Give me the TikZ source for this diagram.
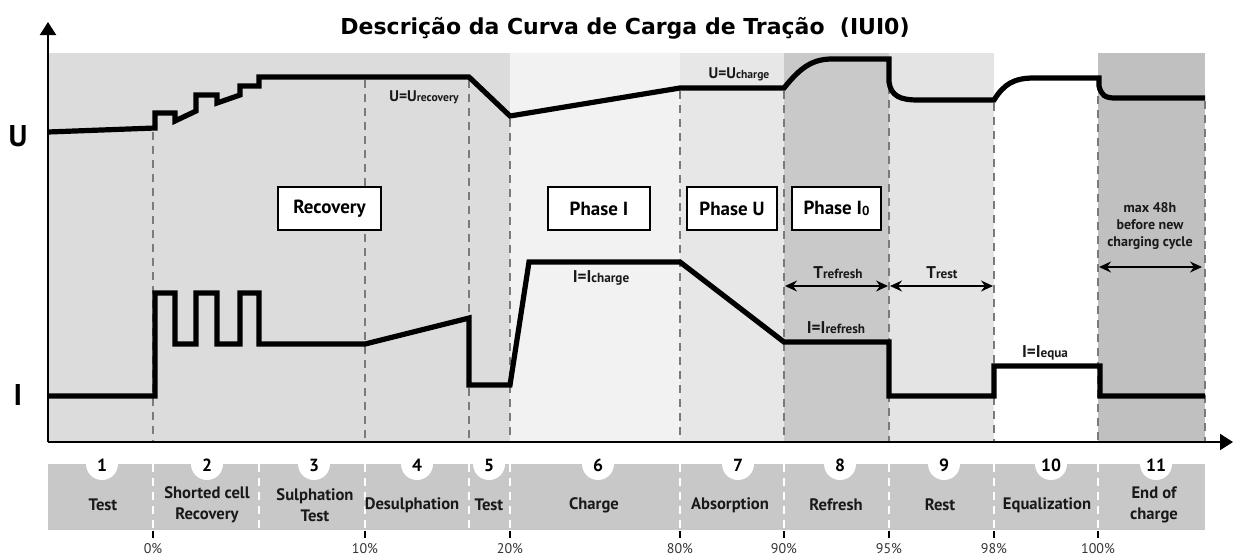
\documentclass[tikz,border=0pt]{standalone}
\usepackage{fontspec}
\setmainfont{PT Sans}
\newfontfamily\titlefont{DejaVu Sans}
\usetikzlibrary{arrows.meta}
\definecolor{gA}{HTML}{DCDCDC}
\definecolor{gB}{HTML}{F2F2F2}
\definecolor{gC}{HTML}{E7E7E7}
\definecolor{gD}{HTML}{C9C9C9}
\definecolor{gE}{HTML}{E4E4E4}
\definecolor{gF}{HTML}{C0C0C0}
\definecolor{barg}{HTML}{C8C8C8}
\definecolor{dashg}{HTML}{7A7A7A}
\definecolor{txtg}{HTML}{333333}
\newcommand\sbs[1]{{\fontsize{5.8}{6}\selectfont #1}}
\newcommand\sbt[1]{{\fontsize{6.6}{7}\selectfont #1}}
\tikzset{
  curveline/.style={line width=2.6pt, line join=miter, line cap=butt},
  vdash/.style={dashg, line width=0.6pt, dash pattern=on 4pt off 3pt},
  wdash/.style={white, line width=0.6pt, dash pattern=on 4pt off 3pt},
  axisline/.style={line width=1pt, -{Triangle[length=6.5pt,width=8pt]}},
  phasebox/.style={draw, fill=white, line width=0.8pt, inner sep=0pt, minimum height=21.5pt, font=\bfseries\fontsize{9.5}{11}\selectfont},
  seglbl/.style={font=\bfseries\fontsize{8.3}{10.6}\selectfont, align=center, text=black!90},
  numlbl/.style={font=\bfseries\fontsize{8.8}{9}\selectfont},
  pctlbl/.style={font=\fontsize{7}{8}\selectfont, text=txtg},
  vallbl/.style={font=\bfseries\fontsize{7.7}{8}\selectfont, text=black!90},
  tlbl/.style={font=\bfseries\fontsize{8.5}{9}\selectfont, text=black!90},
  dimarrow/.style={line width=0.7pt, {Stealth[length=6pt,width=5.5pt,inset=2pt]}-{Stealth[length=6pt,width=5.5pt,inset=2pt]}},
}
\begin{document}
\begin{tikzpicture}[x=0.5pt,y=-0.5pt]
\useasboundingbox (0,0) rectangle (1234,558);
% region shading
\fill[gA] (48,53) rectangle (510,442);
\fill[gB] (510,53) rectangle (680,442);
\fill[gC] (680,53) rectangle (784,442);
\fill[gD] (784,53) rectangle (889,442);
\fill[gE] (889,53) rectangle (994,442);
\fill[gF] (1098,53) rectangle (1205,442);
% dashed separators
\foreach \x/\y in {153/132,365/80,469/80,510/119,680/91,784/91,889/86,994/103,1098/82,1205/101}
  \draw[vdash] (\x,\y) -- (\x,442);
% title
\node[font=\titlefont\bfseries\fontsize{11}{13}\selectfont] (title) at (625,28) {Descrição da Curva de Carga de Tração\ \ (IUI0)};
% axes
\coordinate (o) at (48,442);
\coordinate (ytop) at (48,22);
\coordinate (xend) at (1233,442);
\draw[axisline] (o) -- (ytop);
\draw[axisline] (o) -- (xend);
\node[font=\bfseries\fontsize{15}{16}\selectfont] (ulbl) at (18,136) {U};
\node[font=\bfseries\fontsize{15}{16}\selectfont] (ilbl) at (18,395) {I};
% U curve
\draw[curveline] (48,132) -- (155,128) -- (155,113) -- (175,113) -- (175,121) -- (196,111) -- (196,95) -- (217,95) -- (217,103) -- (240,95) -- (240,86) -- (259,86) -- (259,77) -- (469,77) -- (510,116) -- (680,88) -- (784,88) .. controls (800,68) and (812,59) .. (832,59) -- (889,59) -- (889,82) .. controls (891,96) and (900,100) .. (918,100) -- (994,100) .. controls (1004,84) and (1014,78) .. (1034,78) -- (1099,78) -- (1099,86) .. controls (1101,95) and (1105,98) .. (1115,98) -- (1205,98);
% I curve
\draw[curveline] (48,396) -- (155,396) -- (155,293) -- (175,293) -- (175,344) -- (196,344) -- (196,293) -- (217,293) -- (217,344) -- (240,344) -- (240,293) -- (259,293) -- (259,344) -- (365,344) -- (469,318) -- (469,385) -- (510,385) -- (529,262) -- (680,262) -- (784,342) -- (889,342) -- (889,396) -- (994,396) -- (994,366) -- (1100,366) -- (1100,396) -- (1205,396);
% value labels
\node[vallbl] (urec) at (424,97) {U=U\sbs{recovery}};
\node[vallbl] (uch) at (739,74) {U=U\sbs{charge}};
\node[tlbl] (ich) at (601,278) {I=I\sbt{charge}};
\node[tlbl] (iref) at (836,328) {I=I\sbt{refresh}};
\node[tlbl] (ieq) at (1045,353) {I=I\sbt{equa}};
\node[tlbl] (tref) at (838,273) {T\sbt{refresh}};
\node[tlbl] (trest) at (942,273) {T\sbt{rest}};
\node[font=\bfseries\fontsize{7}{8.5}\selectfont, align=center, text=black!90] (maxh) at (1150,226) {max 48h\\before new\\charging cycle};
% dimension arrows
\coordinate (r1) at (785,286); \coordinate (r2) at (888,286);
\coordinate (s1) at (890,286); \coordinate (s2) at (993,286);
\coordinate (m1) at (1099,267); \coordinate (m2) at (1202,267);
\draw[dimarrow] (r1) -- (r2);
\draw[dimarrow] (s1) -- (s2);
\draw[dimarrow] (m1) -- (m2);
% phase boxes
\node[phasebox, minimum width=51.5pt] (brec) at (329.5,208.5) {Recovery};
\node[phasebox, minimum width=51pt] (bph1) at (599,208.5) {Phase I};
\node[phasebox, minimum width=45pt] (bphu) at (732,208.5) {Phase U};
\node[phasebox, minimum width=44.5pt] (bphi) at (836.5,208.5) {Phase I\raisebox{-0.3pt}{\fontsize{6.5}{7}\selectfont 0}};
% bottom bar
\fill[barg] (48,464) rectangle (1205,530);
\foreach \x/\n in {102/1,207/2,314/3,417/4,489/5,598/6,738/7,840/8,944/9,1051/10,1156/11}{
  \fill[white] (\x,464) circle[radius=16];
  \node[numlbl] (n\n) at (\x,465) {\n};
}
\foreach \x in {153,259,365,469,510,680,784,889,994,1098}
  \draw[wdash] (\x,464) -- (\x,530);
\node[seglbl] (s1t) at (103,505) {Test};
\node[seglbl] (s2t) at (207,505) {Shorted cell\\Recovery};
\node[seglbl] (s3t) at (315,505) {Sulphation\\Test};
\node[seglbl] (s4t) at (412,505) {Desulphation};
\node[seglbl] (s5t) at (489,505) {Test};
\node[seglbl] (s6t) at (594,505) {Charge};
\node[seglbl] (s7t) at (730,505) {Absorption};
\node[seglbl] (s8t) at (836,505) {Refresh};
\node[seglbl] (s9t) at (940,505) {Rest};
\node[seglbl] (s10t) at (1047,505) {Equalization};
\node[seglbl] (s11t) at (1154,505) {End of\\charge};
% percent ticks
\foreach \x/\p in {153/0,365/10,510/20,680/80,784/90,889/95,994/98,1098/100}{
  \draw[line width=0.8pt] (\x,531) -- (\x,538);
  \node[pctlbl] (p\p) at (\x,549) {\p\%};
}
\end{tikzpicture}
\end{document}
